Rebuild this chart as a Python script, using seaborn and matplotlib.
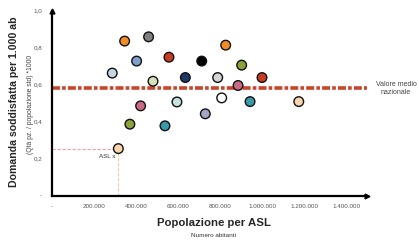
import matplotlib
matplotlib.use("Agg")
import matplotlib.pyplot as plt
import seaborn as sns
import pandas as pd
from matplotlib.ticker import FuncFormatter

sns.set_style("white")
plt.rcParams['font.family'] = ['Liberation Sans', 'DejaVu Sans']

# Data
popolazione = [346000, 460000, 403000, 287000, 557000, 713000, 481000, 635000, 789000,
               827000, 422000, 595000, 808000, 730000, 903000, 1000000, 886000, 943000,
               1175000, 371000, 538000, 316000]
domanda = [0.835, 0.858, 0.727, 0.662, 0.748, 0.727, 0.618, 0.638, 0.638,
           0.813, 0.485, 0.506, 0.528, 0.442, 0.705, 0.638, 0.595, 0.508,
           0.508, 0.386, 0.377, 0.254]
colori = ['#F28C28', '#808080', '#7F9FCC', '#C8D6E4', '#C83C24', '#000000', '#D8E2B8',
          '#1F3864', '#D4D4D4', '#F28C28', '#C86A84', '#C4E2E2', '#FFFFFF', '#A2A8C6',
          '#8CA23C', '#C83C24', '#C86A84', '#3A9AAA', '#FAD6AE', '#8CA23C', '#3A9AAA',
          '#FAD6AE']
asl_id = [f"ASL {i+1}" for i in range(len(popolazione))]
media_nazionale = 0.58
asl_x_pop = 316000
asl_x_val = 0.254

df = pd.DataFrame({"pop": popolazione, "val": domanda, "asl": asl_id})

fig = plt.figure(figsize=(4.19, 2.4), dpi=100)
ax = fig.add_axes([0.124, 0.185, 0.752, 0.771])

# Reference lines for ASL x
ax.plot([0, asl_x_pop], [asl_x_val, asl_x_val], color='#F4A0A8', lw=0.8, ls=(0, (3, 1.5)), zorder=1)
ax.plot([asl_x_pop, asl_x_pop], [0, asl_x_val], color='#F9C890', lw=0.8, ls=(0, (3, 1.5)), zorder=1)

# National average
ax.plot([0, 1500000], [media_nazionale, media_nazionale], color='#C8452C', lw=2.6,
        ls=(0, (2.2, 0.6, 1, 0.6)), zorder=2)

sns.scatterplot(data=df, x="pop", y="val", hue="asl", palette=colori, s=48,
                edgecolor='#111111', linewidth=1.0, legend=False, ax=ax, zorder=3)

ax.set_xlim(0, 1500000)
ax.set_ylim(0, 1.0)
ax.set_xticks([0, 200000, 400000, 600000, 800000, 1000000, 1200000, 1400000])
ax.set_yticks([0, 0.2, 0.4, 0.6, 0.8, 1.0])

def fx(v, p):
    if v == 0:
        return "-"
    return f"{int(v):,}".replace(",", ".")

def fy(v, p):
    if abs(v) < 1e-9:
        return "-"
    return f"{v:.1f}".replace(".", ",")

ax.xaxis.set_major_formatter(FuncFormatter(fx))
ax.yaxis.set_major_formatter(FuncFormatter(fy))
ax.tick_params(axis='both', labelsize=4.5, colors='#555555', length=2, width=0.5, pad=4)
ax.tick_params(axis='y', pad=5)

for s in ['top', 'right']:
    ax.spines[s].set_visible(False)
for s in ['left', 'bottom']:
    ax.spines[s].set_linewidth(1.6)
    ax.spines[s].set_color('black')

# arrows
ax.plot(1, 0, ">k", transform=ax.transAxes, clip_on=False, markersize=3.5)
ax.plot(0, 1, "^k", transform=ax.transAxes, clip_on=False, markersize=3.5)

ax.set_xlabel("")
ax.set_ylabel("")

fig.text(0.033, 0.575, "Domanda soddisfatta per 1.000 ab", rotation=90, fontsize=7.6,
         fontweight='bold', ha='center', va='center')
fig.text(0.072, 0.565, "(Qtà pz. / popolazione std) *1000", rotation=90, fontsize=4.9,
         color='#444444', ha='center', va='center')
fig.text(0.51, 0.072, "Popolazione per ASL", fontsize=8.2, fontweight='bold',
         ha='center', va='center')
fig.text(0.51, 0.018, "Numero abitanti", fontsize=4.6, color='#333333',
         ha='center', va='center')

ax.text(1638000, media_nazionale, "Valore medio\nnazionale", fontsize=5.0, color='#444444',
        ha='center', va='center', clip_on=False)
ax.text(asl_x_pop - 15000, asl_x_val - 0.04, "ASL x", fontsize=4.5, color='#333333',
        ha='right', va='center')

fig.savefig("out.png", dpi=100)
